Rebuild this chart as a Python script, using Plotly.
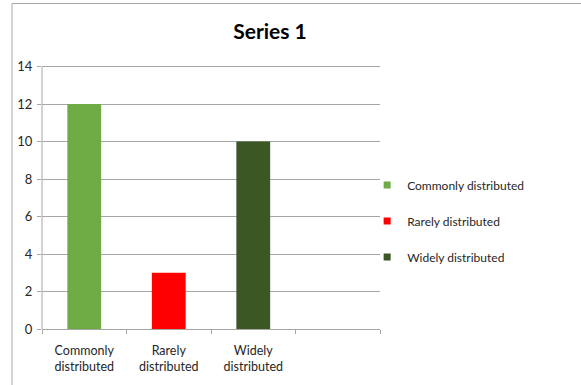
import plotly.graph_objects as go

categories = ["Commonly<br>distributed", "Rarely<br>distributed", "Widely<br>distributed", ""]
legend_names = ["Commonly distributed", "Rarely distributed", "Widely distributed"]
values = [12, 3, 10]
colors = ["#6eab45", "#ff0000", "#3a5724"]
y_ticks = [0, 2, 4, 6, 8, 10, 12, 14]

FONT = "Lato"
fig = go.Figure()
for i, (name, v, c) in enumerate(zip(legend_names, values, colors)):
    fig.add_trace(go.Bar(x=[i], y=[v], width=0.4, marker=dict(color=c, line=dict(width=0)),
                         showlegend=False, name=name, hoverinfo="y"))
    fig.add_trace(go.Scatter(x=[None], y=[None], mode="markers", name=name, legendgroup=name,
                             marker=dict(symbol="square", size=7, color=c)))

fig.update_layout(
    width=581, height=385,
    margin=dict(l=42, r=201, t=61, b=56),
    paper_bgcolor="white", plot_bgcolor="white",
    barmode="overlay",
    title=dict(text="<b>Series 1</b>", x=(270) / 581, xanchor="center", y=1 - 32 / 385, yanchor="middle",
               font=dict(family=FONT, size=21, color="#000000")),
    font=dict(family=FONT, size=12, color="#262626"),
    showlegend=True,
    legend=dict(x=0.962, xanchor="left", y=(329 - 221) / 268, yanchor="middle", tracegroupgap=17,
                font=dict(family=FONT, size=12, color="#262626"), bgcolor="rgba(0,0,0,0)"),
    shapes=[dict(type="rect", xref="paper", yref="paper",
                 x0=(12 - 42) / 338, x1=2.0, y0=-0.5, y1=(329 - 3.5) / 268,
                 line=dict(color="#a6a6a6", width=1), fillcolor="rgba(0,0,0,0)", layer="below"),
            dict(type="line", xref="paper", yref="y", x0=0, x1=0, y0=y_ticks[0], y1=y_ticks[-1],
                 line=dict(color="#a6a6a6", width=1), layer="above")],
)
fig.update_xaxes(range=[-0.5, 3.5], tickmode="array", tickvals=list(range(len(categories))),
                 ticktext=categories, ticks="", showgrid=False, zeroline=False,
                 showline=True, linecolor="#a6a6a6", linewidth=1, ticklabelstandoff=10,
                 tickfont=dict(family=FONT, size=12.5, color="#262626"),
                 minor=dict(tickmode="array", tickvals=[-0.5, 0.5, 1.5, 2.5, 3.5], ticks="outside",
                            ticklen=4, tickcolor="#a6a6a6", showgrid=False))
fig.update_yaxes(range=[0, 14.3], tickmode="array", tickvals=y_ticks, ticks="outside", ticklen=4,
                 tickcolor="#a6a6a6", showgrid=True, gridcolor="#a6a6a6", gridwidth=1,
                 zeroline=False, showline=False, ticklabelstandoff=2,
                 tickfont=dict(family=FONT, size=13, color="#262626"))
fig.write_html("out.html")
